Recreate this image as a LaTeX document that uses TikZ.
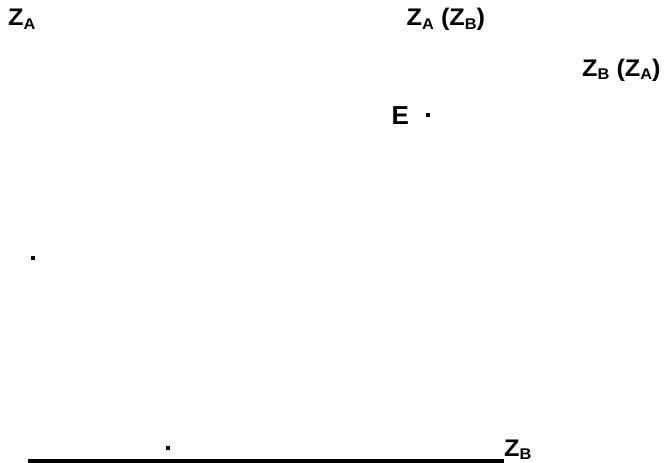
\documentclass[tikz,border=0pt]{standalone}
\usepackage{fontspec}
\setmainfont{Liberation Sans}
\newcommand\subl[1]{\raisebox{-3.5pt}{\fontsize{15.5}{15.5}\selectfont\bfseries #1}}
\newcommand\wide[1]{\scalebox{1.055}[1]{#1}}
\begin{document}
\begin{tikzpicture}[x=1pt,y=-1pt,
  lbl/.style={anchor=base west,inner sep=0pt,font=\fontsize{24}{24}\selectfont\bfseries},
  biglbl/.style={anchor=base west,inner sep=0pt,font=\fontsize{26}{26}\selectfont\bfseries},
  pt/.style={fill=black,inner sep=0pt,minimum size=4pt,draw=none,rectangle}]
\useasboundingbox (0,0) rectangle (665,463);
\node[lbl] (za) at (8,26) {\wide{Z\subl{A}}};
\node[lbl] (zazb) at (406.5,26) {\wide{Z\subl{A} (Z\subl{B})}};
\node[lbl] (zbza) at (582,76) {\wide{Z\subl{B} (Z\subl{A})}};
\node[biglbl] (e) at (391.5,124) {E};
\node[pt] (pe) at (427.5,114.5) {};
\node[pt] (pl) at (33.3,257.8) {};
\node[pt] (pb) at (167.7,448.3) {};
\node[lbl] (zb) at (504,456) {\wide{Z\subl{B}}};
\coordinate (ls) at (28.3,461);
\draw[line width=3.2pt] (ls) -- (ls -| zb.west);
\end{tikzpicture}
\end{document}
